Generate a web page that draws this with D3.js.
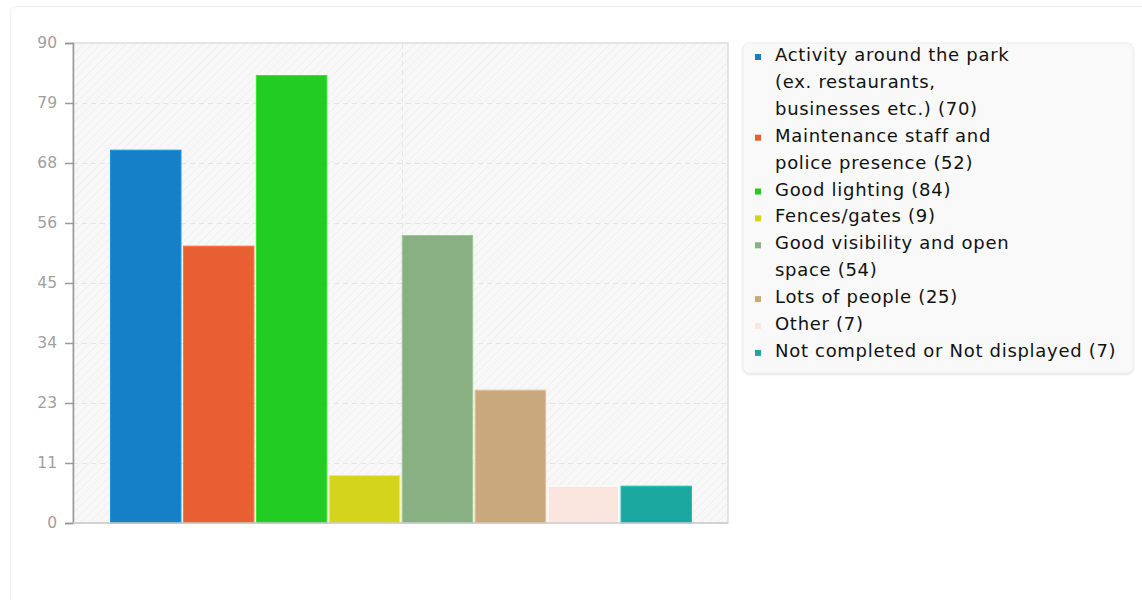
<!DOCTYPE html>
<html><head><meta charset="utf-8">
<script src="https://cdn.jsdelivr.net/npm/d3@7"></script>
<style>
html,body{margin:0;padding:0;background:#fff;}
svg{display:block;}
</style></head>
<body>
<svg id="chart" width="1142" height="600"></svg>
<script>
const categories = [
  "Activity around the park (ex. restaurants, businesses etc.)",
  "Maintenance staff and police presence",
  "Good lighting",
  "Fences/gates",
  "Good visibility and open space",
  "Lots of people",
  "Other",
  "Not completed or Not displayed"
];
const values = [70, 52, 84, 9, 54, 25, 7, 7];
const colors = ["#1580c8", "#e85f33", "#22cc22", "#d4d41c", "#88b083", "#c8a87c", "#fae6de", "#1aa8a0"];
const legendLines = [
  ["Activity around the park", "(ex. restaurants,", "businesses etc.) (70)"],
  ["Maintenance staff and", "police presence (52)"],
  ["Good lighting (84)"],
  ["Fences/gates (9)"],
  ["Good visibility and open", "space (54)"],
  ["Lots of people (25)"],
  ["Other (7)"],
  ["Not completed or Not displayed (7)"]
];
const tickValues = [0, 11.25, 22.5, 33.75, 45, 56.25, 67.5, 78.75, 90];
const tickLabels = ["0", "11", "23", "34", "45", "56", "68", "79", "90"];

const svg = d3.select("#chart");
const font = "'DejaVu Sans', sans-serif";

// card
svg.append("rect").attr("x", 10.5).attr("y", 6.5).attr("width", 1140).attr("height", 610)
  .attr("rx", 6).attr("fill", "#fff").attr("stroke", "#eeeeee");

const plot = {left: 73, right: 728, top: 43, bottom: 523};

const defs = svg.append("defs");
const pat = defs.append("pattern").attr("id", "hatch").attr("patternUnits", "userSpaceOnUse")
  .attr("width", 6).attr("height", 6).attr("patternTransform", "rotate(45)");
pat.append("rect").attr("width", 6).attr("height", 6).attr("fill", "#f8f8f8");
pat.append("line").attr("x1", 0).attr("y1", 0).attr("x2", 0).attr("y2", 6)
  .attr("stroke", "#eeeeee").attr("stroke-width", 1.5);

const shadow = defs.append("filter").attr("id", "shadow").attr("x", "-5%").attr("y", "-5%").attr("width", "110%").attr("height", "115%");
shadow.append("feDropShadow").attr("dx", 0).attr("dy", 1).attr("stdDeviation", 1.2).attr("flood-color", "#000").attr("flood-opacity", 0.15);

const y = d3.scaleLinear().domain([0, 90]).range([plot.bottom, plot.top]);
const x = d3.scaleBand().domain(categories).range([110, 692]).paddingInner(0.02).paddingOuter(0);

// plot background
svg.append("rect").attr("x", plot.left).attr("y", plot.top)
  .attr("width", plot.right - plot.left).attr("height", plot.bottom - plot.top)
  .attr("fill", "url(#hatch)").attr("stroke", "#dddddd").attr("stroke-width", 1.5);

// grid
svg.append("g").selectAll("line").data(tickValues.filter(v => v > 0 && v < 90)).join("line")
  .attr("x1", plot.left).attr("x2", plot.right)
  .attr("y1", d => Math.round(y(d)) + 0.5).attr("y2", d => Math.round(y(d)) + 0.5)
  .attr("stroke", "#e4e4e4").attr("stroke-width", 1.2).attr("stroke-dasharray", "5,4");
svg.append("line").attr("x1", 402.5).attr("x2", 402.5).attr("y1", plot.top).attr("y2", plot.bottom)
  .attr("stroke", "#e6e6e6").attr("stroke-width", 1).attr("stroke-dasharray", "5,4");

// bars
svg.append("g").selectAll("rect").data(values).join("rect")
  .attr("x", (d, i) => x(categories[i]) + 0.5)
  .attr("y", d => y(d) + 0.5)
  .attr("width", x.bandwidth() - 1)
  .attr("height", d => plot.bottom - y(d) - 0.5)
  .attr("fill", (d, i) => colors[i])
  .attr("stroke", (d, i) => d3.color(colors[i]).brighter(0.4))
  .attr("stroke-width", 1);

// y axis
const axis = d3.axisLeft(y).tickValues(tickValues).tickFormat((d, i) => tickLabels[i]).tickSize(8).tickPadding(8);
const ga = svg.append("g").attr("transform", `translate(${plot.left},0)`).call(axis);
ga.select(".domain").attr("stroke", "#999").attr("stroke-width", 1.5);
ga.selectAll(".tick line").attr("stroke", "#999").attr("stroke-width", 1.5);
ga.selectAll(".tick text").attr("fill", "#a0a0a0").attr("font-family", font).attr("font-size", 15.5);

// bottom axis line
svg.append("line").attr("x1", plot.left).attr("x2", plot.right).attr("y1", plot.bottom).attr("y2", plot.bottom)
  .attr("stroke", "#cccccc").attr("stroke-width", 1.5);

// legend
const lg = svg.append("g");
lg.append("rect").attr("x", 743).attr("y", 43).attr("width", 390).attr("height", 330).attr("rx", 6)
  .attr("fill", "#f9f9f9").attr("stroke", "#eeeeee").attr("filter", "url(#shadow)");
const lineH = 26.9;
let row = 0;
legendLines.forEach((lines, i) => {
  const cy = 55 + row * lineH;
  lg.append("rect").attr("x", 755).attr("y", cy - 1).attr("width", 6).attr("height", 6).attr("fill", colors[i]);
  lines.forEach((t, j) => {
    lg.append("text").attr("x", 775).attr("y", 55 + (row + j) * lineH + 6)
      .attr("font-family", font).attr("font-size", 18).attr("letter-spacing", 0.7)
      .attr("fill", "#111").text(t);
  });
  row += lines.length;
});
</script>
</body></html>
